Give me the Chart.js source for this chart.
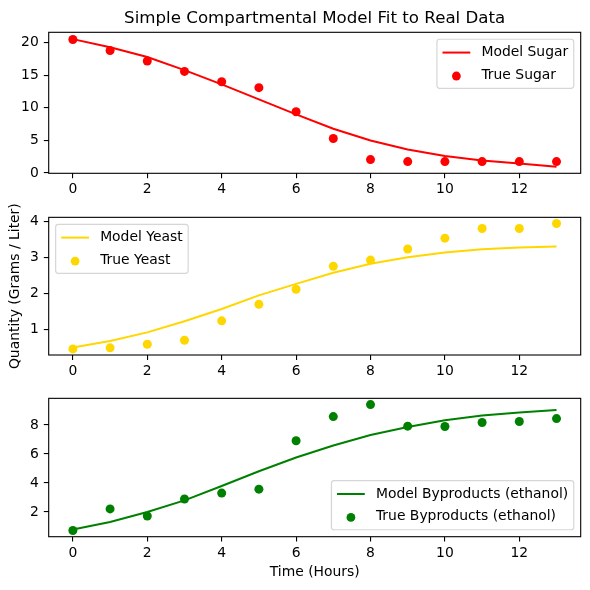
<!DOCTYPE html>
<html>
<head>
<meta charset="utf-8">
<script src="https://cdn.jsdelivr.net/npm/chart.js@4.4.1/dist/chart.umd.min.js"></script>
<style>
  html, body { margin: 0; padding: 0; background: #fff; }
  #wrap { position: relative; width: 590px; height: 590px; overflow: hidden; }
  canvas { position: absolute; left: 0; }
</style>
</head>
<body>
<div id="wrap">
  <canvas id="sugar" width="590" height="204" style="top:0px"></canvas>
  <canvas id="yeast" width="590" height="181" style="top:204px"></canvas>
  <canvas id="ethanol" width="590" height="205" style="top:385px"></canvas>
</div>
<script>
// time points (hours)
const hours = [0, 1, 2, 3, 4, 5, 6, 7, 8, 9, 10, 11, 12, 13];

// sugar
const sugarModel = [20.55, 19.3, 17.8, 15.8, 13.6, 11.3, 9.0, 6.8, 5.0, 3.6, 2.6, 1.9, 1.45, 0.95];
const sugarTrue  = [20.5, 18.8, 17.2, 15.6, 14.0, 13.1, 9.4, 5.3, 2.05, 1.75, 1.75, 1.75, 1.75, 1.75];

// yeast
const yeastModel = [0.50, 0.68, 0.92, 1.23, 1.57, 1.95, 2.27, 2.58, 2.83, 3.01, 3.14, 3.23, 3.28, 3.31];
const yeastTrue  = [0.46, 0.49, 0.59, 0.70, 1.24, 1.70, 2.12, 2.76, 2.93, 3.24, 3.54, 3.81, 3.81, 3.95];

// byproducts (ethanol)
const ethanolModel = [0.79, 1.31, 1.99, 2.80, 3.79, 4.81, 5.76, 6.59, 7.31, 7.86, 8.33, 8.65, 8.87, 9.03];
const ethanolTrue  = [0.72, 2.21, 1.72, 2.89, 3.30, 3.57, 6.91, 8.58, 9.41, 7.92, 7.90, 8.17, 8.24, 8.44];

// tick labels
const xTicks = [0, 2, 4, 6, 8, 10, 12];
const sugarTicks = [0, 5, 10, 15, 20];
const yeastTicks = [1, 2, 3, 4];
const ethanolTicks = [2, 4, 6, 8];

const FS = 13.9;  // 10pt @ 100dpi
Chart.defaults.font.family = '"DejaVu Sans", sans-serif';
Chart.defaults.font.size = FS;
Chart.defaults.color = '#000';

const toPoints = ys => hours.map((h, i) => ({ x: h, y: ys[i] }));

// black box around the plot area, like matplotlib spines
const axesFrame = {
  id: 'axesFrame',
  afterDatasetsDraw(chart) {
    const { ctx, chartArea: a } = chart;
    ctx.save();
    ctx.strokeStyle = '#000';
    ctx.lineWidth = 1.1;
    ctx.strokeRect(a.left, a.top, a.right - a.left, a.bottom - a.top);
    ctx.restore();
  }
};

// legend drawn inside the axes, matplotlib style
const mplLegend = {
  id: 'mplLegend',
  afterDraw(chart, args, opts) {
    const { ctx, chartArea: a } = chart;
    const pad = 0.4 * FS, spacing = 0.5 * FS, handleLen = 2 * FS;
    const textPad = 0.8 * FS, axesPad = 0.5 * FS, rowH = 15.5;
    const items = chart.data.datasets.map(d => ({
      label: d.label, color: d.borderColor || d.backgroundColor, isLine: d.type === 'line'
    }));
    ctx.save();
    ctx.font = `${FS}px "DejaVu Sans"`;
    const textW = Math.max(...items.map(it => ctx.measureText(it.label).width));
    const w = 2 * pad + handleLen + textPad + textW;
    const h = 2 * pad + items.length * rowH + (items.length - 1) * spacing;
    let x, y;
    if (opts.loc === 'upper left') { x = a.left + axesPad; y = a.top + axesPad; }
    else if (opts.loc === 'lower right') { x = a.right - axesPad - w; y = a.bottom - axesPad - h; }
    else { x = a.right - axesPad - w; y = a.top + axesPad; }

    ctx.beginPath();
    ctx.roundRect(x, y, w, h, 0.2 * FS);
    ctx.fillStyle = 'rgba(255,255,255,0.8)';
    ctx.fill();
    ctx.strokeStyle = 'rgba(204,204,204,0.8)';
    ctx.lineWidth = 1.2;
    ctx.stroke();

    items.forEach((it, i) => {
      const cy = y + pad + i * (rowH + spacing) + rowH / 2;
      const hx = x + pad;
      if (it.isLine) {
        ctx.beginPath();
        ctx.moveTo(hx, cy);
        ctx.lineTo(hx + handleLen, cy);
        ctx.strokeStyle = it.color;
        ctx.lineWidth = 2;
        ctx.stroke();
      } else {
        ctx.beginPath();
        ctx.arc(hx + handleLen / 2, cy + 1, 4.4, 0, Math.PI * 2);
        ctx.fillStyle = it.color;
        ctx.fill();
      }
      ctx.fillStyle = '#000';
      ctx.textAlign = 'left';
      ctx.textBaseline = 'middle';
      ctx.fillText(it.label, hx + handleLen + textPad, cy);
    });
    ctx.restore();
  }
};

function makePanel(id, cfg) {
  const yScale = {
    type: 'linear',
    min: cfg.yMin,
    max: cfg.yMax,
    afterBuildTicks: s => { s.ticks = cfg.yTicks.map(v => ({ value: v })); },
    afterFit: s => { s.width = 48.7; },
    grid: { drawOnChartArea: false, drawTicks: true, tickLength: 4.9, color: '#000', lineWidth: 1.1 },
    border: { display: false },
    ticks: { padding: 5, font: { size: FS } },
    title: cfg.yTitle ? {
      display: true, text: cfg.yTitle, padding: { top: 6.7, bottom: 0 }, font: { size: FS }
    } : { display: false }
  };
  const xScale = {
    type: 'linear',
    min: -0.65,
    max: 13.65,
    afterBuildTicks: s => { s.ticks = xTicks.map(v => ({ value: v })); },
    afterFit: s => { s.height = cfg.xHeight; },
    grid: { drawOnChartArea: false, drawTicks: true, tickLength: 4.9, color: '#000', lineWidth: 1.1 },
    border: { display: false },
    ticks: { padding: 3, maxRotation: 0, font: { size: FS } },
    title: cfg.xTitle ? {
      display: true, text: cfg.xTitle, padding: { top: 0, bottom: 9.6 }, font: { size: FS }
    } : { display: false }
  };

  return new Chart(document.getElementById(id), {
    data: {
      datasets: [
        {
          type: 'line',
          label: cfg.modelLabel,
          data: toPoints(cfg.model),
          borderColor: cfg.color,
          borderWidth: 2,
          pointRadius: 0,
          tension: 0,
          fill: false,
          order: 1
        },
        {
          type: 'scatter',
          label: cfg.trueLabel,
          data: toPoints(cfg.observed),
          backgroundColor: cfg.color,
          borderWidth: 0,
          pointRadius: 4.5,
          order: 0
        }
      ]
    },
    options: {
      responsive: false,
      animation: false,
      events: [],
      layout: { autoPadding: false, padding: { left: 0, right: 9.3, top: cfg.padTop, bottom: 0 } },
      scales: { x: xScale, y: yScale },
      plugins: {
        legend: { display: false },
        tooltip: { enabled: false },
        title: cfg.title ? {
          display: true,
          text: cfg.title,
          fullSize: false,
          font: { size: 16.67, weight: 'normal' },
          padding: { top: 9, bottom: 3.3 },
          color: '#000'
        } : { display: false },
        mplLegend: { loc: cfg.legendLoc }
      }
    },
    plugins: [axesFrame, mplLegend]
  });
}

makePanel('sugar', {
  title: 'Simple Compartmental Model Fit to Real Data',
  model: sugarModel, observed: sugarTrue,
  modelLabel: 'Model Sugar', trueLabel: 'True Sugar',
  color: 'red', yMin: -0.05, yMax: 21.6, yTicks: sugarTicks,
  padTop: 0, xHeight: 30.7, legendLoc: 'upper right'
});

makePanel('yeast', {
  model: yeastModel, observed: yeastTrue,
  modelLabel: 'Model Yeast', trueLabel: 'True Yeast',
  color: 'gold', yMin: 0.29, yMax: 4.12, yTicks: yeastTicks,
  yTitle: 'Quantity (Grams / Liter)',
  padTop: 10.5, xHeight: 30, legendLoc: 'upper left'
});

makePanel('ethanol', {
  model: ethanolModel, observed: ethanolTrue,
  modelLabel: 'Model Byproducts (ethanol)', trueLabel: 'True Byproducts (ethanol)',
  color: 'green', yMin: 0.29, yMax: 9.84, yTicks: ethanolTicks,
  xTitle: 'Time (Hours)',
  padTop: 11, xHeight: 53.3, legendLoc: 'lower right'
});
</script>
</body>
</html>
